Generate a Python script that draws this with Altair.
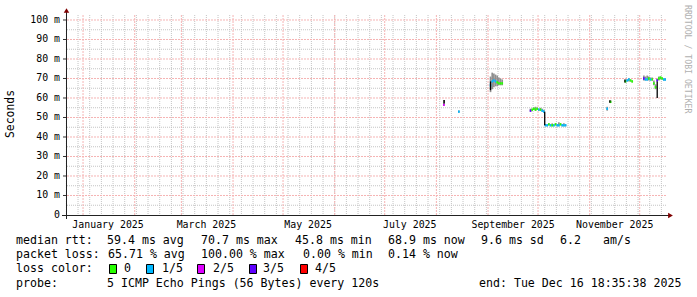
import altair as alt
import pandas as pd

# ---------------- data ----------------
sample_days = [
    "2025-08-05", "2025-08-14",
    "2025-09-02", "2025-09-03", "2025-09-04", "2025-09-05", "2025-09-06", "2025-09-07", "2025-09-08", "2025-09-09",
    "2025-09-26", "2025-09-27", "2025-09-28", "2025-09-29", "2025-09-30", "2025-10-01", "2025-10-02", "2025-10-03",
    "2025-10-04", "2025-10-05", "2025-10-06", "2025-10-07", "2025-10-08", "2025-10-09", "2025-10-10", "2025-10-11",
    "2025-10-12", "2025-10-13", "2025-10-14", "2025-10-15", "2025-10-16", "2025-10-17",
    "2025-11-11", "2025-11-13",
    "2025-11-22", "2025-11-23", "2025-11-24", "2025-11-25", "2025-11-26",
    "2025-12-03", "2025-12-04", "2025-12-05", "2025-12-06", "2025-12-07", "2025-12-08", "2025-12-09", "2025-12-10",
    "2025-12-11", "2025-12-12", "2025-12-13", "2025-12-14", "2025-12-15", "2025-12-16",
]
median_ms = [
    56.5, 53.0,
    66.5, 68.5, 69.0, 68.5, 68.0, 67.5, 67.5, 67.5,
    53.5, 54.0, 54.5, 54.0, 54.5, 54.0, 54.0, 53.5,
    53.0, 46.0, 46.0, 46.5, 46.0, 46.0, 46.0, 46.5,
    46.0, 46.0, 46.5, 46.0, 46.0, 46.0,
    54.5, 58.0,
    68.5, 69.0, 69.5, 69.0, 68.5,
    70.0, 69.5, 69.5, 70.0, 69.5, 69.5, 67.5, 65.5,
    69.0, 70.0, 70.5, 70.0, 69.5, 69.5,
]
smoke_low_ms = [
    56.0, 52.4,
    63.0, 64.5, 65.5, 66.0, 66.0, 66.5, 66.5, 66.5,
    53.0, 53.5, 54.0, 53.5, 54.0, 53.5, 53.5, 53.0,
    52.5, 45.5, 45.5, 46.0, 45.5, 45.5, 45.5, 46.0,
    45.5, 45.5, 46.0, 45.5, 45.5, 45.5,
    53.5, 57.5,
    68.0, 68.5, 68.5, 68.5, 68.0,
    69.0, 69.0, 69.0, 69.0, 69.0, 69.0, 66.5, 64.5,
    68.5, 69.0, 69.5, 69.5, 69.0, 69.0,
]
smoke_high_ms = [
    59.0, 53.6,
    71.0, 73.0, 72.5, 72.0, 71.5, 70.5, 70.0, 69.5,
    54.5, 54.5, 55.0, 55.5, 55.0, 54.5, 55.0, 54.5,
    54.0, 46.5, 46.5, 47.0, 46.5, 47.0, 46.5, 47.0,
    46.5, 47.5, 47.0, 46.5, 47.0, 46.5,
    55.5, 58.8,
    69.5, 69.5, 70.0, 69.5, 69.0,
    71.5, 71.0, 71.5, 71.0, 70.5, 70.5, 69.0, 67.0,
    70.0, 71.0, 71.0, 70.5, 70.0, 70.0,
]
loss_bucket = [
    "2/5", "1/5",
    "1/5", "1/5", "1/5", "1/5", "0", "0", "0", "0",
    "3/5", "0", "0", "0", "0", "1/5", "0", "1/5",
    "1/5", "1/5", "1/5", "0", "1/5", "0", "1/5", "0",
    "1/5", "1/5", "0", "1/5", "1/5", "1/5",
    "1/5", "0",
    "0", "1/5", "1/5", "0", "0",
    "3/5", "1/5", "1/5", "0", "1/5", "0", "0", "0",
    "3/5", "0", "0", "0", "1/5", "1/5",
]

jump_times = ["2025-08-05T16:00", "2025-09-02T12:00", "2025-10-05T00:00",
              "2025-11-13T02:00", "2025-11-22T03:00", "2025-12-11T12:00"]
jump_low_ms = [57.2, 64.0, 46.0, 57.6, 68.0, 60.0]
jump_high_ms = [59.0, 68.5, 53.0, 58.8, 69.5, 68.5]

loss_levels = ["0", "1/5", "2/5", "3/5", "4/5"]
loss_colors = ["#26ff00", "#00b8ff", "#dd00ff", "#5e00ff", "#ff0000"]

y_tick_values = [0, 10, 20, 30, 40, 50, 60, 70, 80, 90, 100]
y_tick_labels = ["0\u00a0\u00a0", "10 m", "20 m", "30 m", "40 m", "50 m", "60 m", "70 m", "80 m", "90 m", "100 m"]
y_major_lines = [10, 20, 30, 40, 50, 60, 70, 80, 90, 100]
y_minor_lines = [5, 15, 25, 35, 45, 55, 65, 75, 85, 95]
x_label_days = ["2025-01-16", "2025-03-16", "2025-05-16", "2025-07-16", "2025-09-16", "2025-11-16"]
x_label_texts = ["January 2025", "March 2025", "May 2025", "July 2025", "September 2025", "November 2025"]
month_lines = [f"2025-{m:02d}-01" for m in range(1, 13)]
week_lines = [d.strftime("%Y-%m-%d") for d in pd.date_range("2024-12-22", "2025-12-14", freq="7D")]

legend_line1 = [("median rtt:", 16), ("59.4 ms avg", 107), ("70.7 ms max", 201), ("45.8 ms min", 295),
                ("68.9 ms now", 388), ("9.6 ms sd", 481), ("6.2", 560), ("am/s", 603)]
legend_line2 = [("packet loss:", 16), ("65.71 % avg", 108), ("100.00 % max", 201),
                ("0.00 % min", 303), ("0.14 % now", 388)]
legend_line4 = [("probe:", 16), ("5 ICMP Echo Pings (56 Bytes) every 120s", 107),
                ("end: Tue Dec 16 18:35:38 2025", 479)]
swatch_x = [109, 146, 197, 249, 300]
swatch_label_x = [124, 162, 213, 263, 315]


def ms(s):
    return int(pd.Timestamp(s, tz="UTC").value // 10**6)


samples = pd.DataFrame({
    "t0": [ms(d) for d in sample_days],
    "t1": [ms(d) + 86400000 for d in sample_days],
    "med": median_ms, "lo": smoke_low_ms, "hi": smoke_high_ms, "loss": loss_bucket,
})
jumps = pd.DataFrame({"t": [ms(t) for t in jump_times], "lo": jump_low_ms, "hi": jump_high_ms})

# ---------------- geometry ----------------
L, T, W, H = 66, 15, 600, 200
MONO = "DejaVu Sans Mono"

x_scale = alt.Scale(type="utc", domain=[ms("2024-12-21T18:35"), ms("2025-12-16T18:35")])
y_scale = alt.Scale(domain=[0, 102.56], nice=False, zero=False)

one = pd.DataFrame({"k": [0]})

MINOR = "#c4c4c4"
MAJOR = "#f5b4b4"
minor_y = alt.Chart(pd.DataFrame({"gv": y_minor_lines})).mark_rule(
    stroke=MINOR, strokeDash=[1, 1], strokeWidth=1).encode(
    y=alt.Y("gv:Q", scale=y_scale, axis=None))
minor_x = alt.Chart(pd.DataFrame({"gt": [ms(d) for d in week_lines]})).mark_rule(
    stroke=MINOR, strokeDash=[1, 1], strokeWidth=1).encode(
    x=alt.X("gt:T", scale=x_scale, axis=None))
major_y = alt.Chart(pd.DataFrame({"mv": y_major_lines})).mark_rule(
    stroke=MAJOR, strokeDash=[2, 1], strokeWidth=1).encode(
    y=alt.Y("mv:Q", scale=y_scale, axis=None))
major_x = alt.Chart(pd.DataFrame({"mt": [ms(d) for d in month_lines]})).mark_rule(
    stroke=MAJOR, strokeDash=[2, 1], strokeWidth=1).encode(
    x=alt.X("mt:T", scale=x_scale, axis=None))

# axis labels drawn through the scales
y_labels = alt.Chart(pd.DataFrame({"v": y_tick_values, "lab": y_tick_labels})).mark_text(
    font=MONO, fontSize=9.9, align="right", baseline="middle", color="black").encode(
    y=alt.Y("v:Q", scale=y_scale, axis=None), x=alt.value(-6), text="lab:N")
y_ticks = alt.Chart(pd.DataFrame({"tv": y_major_lines})).mark_rule(stroke="#333333", strokeWidth=1).encode(
    y=alt.Y("tv:Q", scale=y_scale, axis=None), x=alt.value(-3), x2=alt.value(0))
x_labels = alt.Chart(pd.DataFrame({"t": [ms(d) for d in x_label_days], "lab": x_label_texts})).mark_text(
    font=MONO, fontSize=9.9, align="center", baseline="middle", color="black").encode(
    x=alt.X("t:T", scale=x_scale, axis=None), y=alt.value(H + 10), text="lab:N")

smoke = alt.Chart(samples).mark_rect(color="#8f8f8f", clip=True).encode(
    x=alt.X("t0:T", scale=x_scale, axis=None), x2="t1:T",
    y=alt.Y("lo:Q", scale=y_scale, axis=None), y2="hi:Q")

median = alt.Chart(samples).transform_calculate(
    m0="datum.med - 0.6", m1="datum.med + 0.6").mark_rect(clip=True).encode(
    x=alt.X("t0:T", scale=x_scale, axis=None), x2="t1:T",
    y=alt.Y("m0:Q", scale=y_scale, axis=None), y2="m1:Q",
    color=alt.Color("loss:N", scale=alt.Scale(domain=loss_levels, range=loss_colors), legend=None))

jump = alt.Chart(jumps).mark_rule(stroke="black", strokeWidth=1.3).encode(
    x=alt.X("t:T", scale=x_scale, axis=None),
    y=alt.Y("lo:Q", scale=y_scale, axis=None), y2="hi:Q")

AX = "#222222"
y_axis_line = alt.Chart(one).mark_rule(stroke=AX, strokeWidth=1).encode(
    x=alt.value(0.5), y=alt.value(12 - T), y2=alt.value(219 - T))
x_axis_line = alt.Chart(one).mark_rule(stroke=AX, strokeWidth=1).encode(
    x=alt.value(62 - L), x2=alt.value(669 - L), y=alt.value(H + 0.5))
arrow_up = alt.Chart(one).mark_point(shape="triangle-up", filled=True, color="#7f0000",
                                     size=30, opacity=1).encode(
    x=alt.value(66.5 - L), y=alt.value(10.5 - T))
arrow_right = alt.Chart(one).mark_point(shape="triangle-right", filled=True, color="#7f0000",
                                        size=30, opacity=1).encode(
    x=alt.value(670.5 - L), y=alt.value(215.5 - T))


def label(text, X, Y, size=11.6, align="left", angle=0, color="black"):
    return alt.Chart(one).mark_text(text=text, font=MONO, fontSize=size, align=align,
                                    baseline="middle", angle=angle, color=color).encode(
        x=alt.value(X - L), y=alt.value(Y - T))


texts = []
for s, X in legend_line1:
    texts.append(label(s, X, 241))
for s, X in legend_line2:
    texts.append(label(s, X, 255))
texts.append(label("loss color:", 16, 269))
for lvl, c, sx, lx in zip(loss_levels, loss_colors, swatch_x, swatch_label_x):
    texts.append(alt.Chart(one).mark_rect(fill=c, stroke="black", strokeWidth=1).encode(
        x=alt.value(sx + 0.5 - L), x2=alt.value(sx + 7.5 - L),
        y=alt.value(264.5 - T), y2=alt.value(273.5 - T)))
    texts.append(label(lvl, lx, 269))
for s, X in legend_line4:
    texts.append(label(s, X, 283.5))
texts.append(label("Seconds", 11, 114, size=11.4, align="center", angle=270))
texts.append(label("RRDTOOL / TOBI OETIKER", 687, 5, size=8.2, angle=90, color="#b0b0b0"))

chart = alt.layer(
    minor_y, minor_x, major_y, major_x, smoke, median, jump,
    y_axis_line, x_axis_line, y_ticks, y_labels, x_labels, arrow_up, arrow_right, *texts
).properties(
    width=W, height=H,
    autosize=alt.AutoSizeParams(type="none"),
    padding={"left": L, "top": T, "right": 697 - L - W, "bottom": 297 - T - H},
    background="white",
).configure_view(stroke=None)

chart.save("out.html", embed_options={"renderer": "svg", "actions": False})
